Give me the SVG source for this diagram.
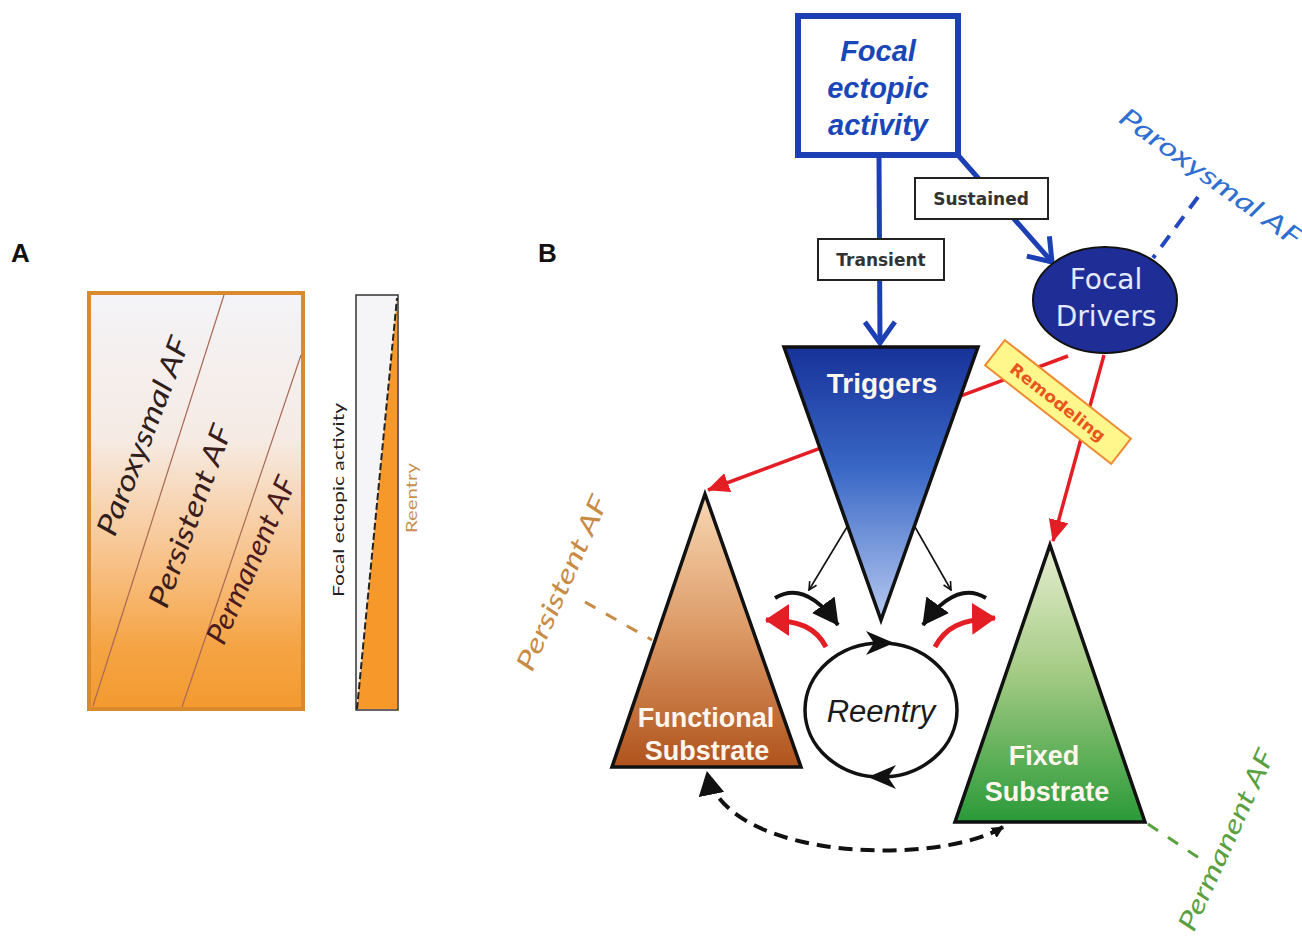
<svg xmlns="http://www.w3.org/2000/svg" width="1302" height="936" viewBox="0 0 1302 936">
<style>
.lbl{font-family:"Liberation Sans",Arial,sans-serif;font-weight:bold;font-size:26px;fill:#111}
.cal{font-family:Lato,"Liberation Sans",sans-serif;font-style:italic}
.tag{font-family:"DejaVu Sans",Verdana,sans-serif;font-weight:bold;font-size:17px;fill:#333}
.wbold{font-family:"Liberation Sans",Arial,sans-serif;font-weight:bold;fill:#fff6ee}
.box{fill:#fff;stroke:#222;stroke-width:2}
.blue{stroke:#1d3fb4;stroke-width:5;fill:none}
.red{stroke:#e31e24;stroke-width:3.5;fill:none}
.tri{stroke:#111;stroke-width:3.5;stroke-linejoin:miter}
</style>
<defs>
<linearGradient id="gA" x1="0" y1="0" x2="0" y2="1">
<stop offset="0" stop-color="#f3f3f7"/>
<stop offset="0.35" stop-color="#f6ebe4"/>
<stop offset="0.62" stop-color="#f8c590"/>
<stop offset="0.85" stop-color="#f5a444"/>
<stop offset="1" stop-color="#f39a30"/>
</linearGradient>
<linearGradient id="gTrig" x1="0" y1="0" x2="0" y2="1">
<stop offset="0" stop-color="#17329a"/>
<stop offset="0.45" stop-color="#3a68c6"/>
<stop offset="1" stop-color="#b6c9f0"/>
</linearGradient>
<linearGradient id="gFunc" x1="0" y1="0" x2="0" y2="1">
<stop offset="0" stop-color="#f8d8b4"/>
<stop offset="0.5" stop-color="#dc9a66"/>
<stop offset="1" stop-color="#b0531c"/>
</linearGradient>
<linearGradient id="gFix" x1="0" y1="0" x2="0" y2="1">
<stop offset="0" stop-color="#e6eed0"/>
<stop offset="0.45" stop-color="#a6cc86"/>
<stop offset="1" stop-color="#2a9a38"/>
</linearGradient>
<marker id="vBlue" viewBox="0 0 26 34" refX="23" refY="17" markerWidth="26" markerHeight="34" markerUnits="userSpaceOnUse" orient="auto">
<path d="M2,2 L23,17 L2,32" fill="none" stroke="#1d3fb4" stroke-width="5"/>
</marker>
<marker id="triRed" viewBox="0 0 22 20" refX="21" refY="10" markerWidth="22" markerHeight="20" markerUnits="userSpaceOnUse" orient="auto">
<path d="M0,0 L22,10 L0,20 z" fill="#e31e24"/>
</marker>
<marker id="triRedBig" viewBox="0 0 24 32" refX="23" refY="16" markerWidth="24" markerHeight="32" markerUnits="userSpaceOnUse" orient="auto">
<path d="M0,0 L24,16 L0,32 z" fill="#e31e24"/>
</marker>
<marker id="triBlkBig" viewBox="0 0 26 28" refX="25" refY="14" markerWidth="26" markerHeight="28" markerUnits="userSpaceOnUse" orient="auto">
<path d="M0,0 L26,14 L0,28 z" fill="#111"/>
</marker>
<marker id="vBlk" viewBox="0 0 10 10" refX="9" refY="5" markerWidth="10" markerHeight="10" markerUnits="userSpaceOnUse" orient="auto">
<path d="M1,1 L9,5 L1,9" fill="none" stroke="#111" stroke-width="1.6"/>
</marker>
<marker id="triBlk" viewBox="0 0 24 26" refX="23" refY="13" markerWidth="24" markerHeight="26" markerUnits="userSpaceOnUse" orient="auto-start-reverse">
<path d="M0,0 L24,13 L0,26 z" fill="#111"/>
</marker>
<marker id="triBlkSm" viewBox="0 0 12 12" refX="11" refY="6" markerWidth="12" markerHeight="12" markerUnits="userSpaceOnUse" orient="auto-start-reverse">
<path d="M0,0 L12,6 L0,12 z" fill="#111"/>
</marker>
</defs>
<rect width="1302" height="936" fill="#fff"/>

<!-- Panel A -->
<g id="panelA">
<text class="lbl" x="11" y="262">A</text>
<rect x="89" y="293" width="214" height="416" fill="url(#gA)" stroke="#d98a2c" stroke-width="4"/>
<line x1="224" y1="295" x2="93" y2="706" stroke="#a86a55" stroke-width="1.2"/>
<line x1="301" y1="355" x2="182" y2="707" stroke="#a86a55" stroke-width="1.2"/>
<text class="cal" font-size="29" fill="#2e1e1e" text-anchor="middle" dy="0.35em" transform="translate(143,436) rotate(-69)" textLength="210" lengthAdjust="spacingAndGlyphs">Paroxysmal AF</text>
<text class="cal" font-size="29" fill="#3a1e1e" text-anchor="middle" dy="0.35em" transform="translate(190,516) rotate(-70)" textLength="192" lengthAdjust="spacingAndGlyphs">Persistent AF</text>
<text class="cal" font-size="29" fill="#4a1a20" text-anchor="middle" dy="0.35em" transform="translate(251,560) rotate(-66)" textLength="180" lengthAdjust="spacingAndGlyphs">Permanent AF</text>
<rect x="356" y="295" width="42" height="415" fill="#f5f5f8" stroke="#333" stroke-width="1.5"/>
<polygon points="357,709 397,298 397,709" fill="#f6982a"/>
<line x1="357" y1="709" x2="397" y2="298" stroke="#222" stroke-width="2" stroke-dasharray="7 3"/>
<text font-family="Lato,'Liberation Sans',sans-serif" font-size="16" fill="#222" text-anchor="middle" dy="0.35em" transform="translate(338,500) rotate(-90)" textLength="194" lengthAdjust="spacingAndGlyphs">Focal ectopic activity</text>
<text font-family="Lato,'Liberation Sans',sans-serif" font-size="15" fill="#c8904e" text-anchor="middle" dy="0.35em" transform="translate(412,498) rotate(-90)" textLength="70" lengthAdjust="spacingAndGlyphs">Reentry</text>
</g>

<text class="lbl" x="538" y="262">B</text>

<!-- Connectors -->
<g id="connectors">
<line class="blue" x1="879" y1="156" x2="880" y2="343" marker-end="url(#vBlue)"/>
<line class="blue" x1="957" y1="154" x2="1052" y2="262" marker-end="url(#vBlue)"/>
<line x1="1198" y1="197" x2="1153" y2="258" stroke="#2448c0" stroke-width="4" stroke-dasharray="14 10"/>
<line class="red" x1="1068" y1="356" x2="708" y2="490" marker-end="url(#triRed)"/>
<line class="red" x1="1104" y1="355" x2="1053" y2="541" marker-end="url(#triRed)"/>
<line x1="585" y1="602" x2="652" y2="640" stroke="#c88b45" stroke-width="3" stroke-dasharray="12 12"/>
<line x1="1148" y1="824" x2="1202" y2="860" stroke="#5aa040" stroke-width="3" stroke-dasharray="12 12"/>
</g>

<!-- Triggers -->
<g id="triggers">
<polygon class="tri" points="784,347 978,347 881,620" fill="url(#gTrig)"/>
<text class="wbold" x="882" y="393" font-size="28" text-anchor="middle" fill="#f2f6ff">Triggers</text>
</g>

<g id="focalBox">
<rect x="798" y="16" width="160" height="139" fill="#fff" stroke="#1d3fb4" stroke-width="6"/>
<g font-family="'Liberation Sans',Arial,sans-serif" font-weight="bold" font-style="italic" font-size="29" fill="#1a47b8" text-anchor="middle">
<text x="878" y="61">Focal</text>
<text x="878" y="98">ectopic</text>
<text x="878" y="135">activity</text>
</g>
</g>

<g id="transient">
<rect class="box" x="818" y="239" width="126" height="41"/>
<text class="tag" x="881" y="266" text-anchor="middle">Transient</text>
</g>
<g id="sustained">
<rect class="box" x="915" y="178" width="133" height="41"/>
<text class="tag" x="981" y="205" text-anchor="middle">Sustained</text>
</g>

<g id="focalDrivers">
<ellipse cx="1105" cy="300" rx="72" ry="53" fill="#1f2e96" stroke="#111" stroke-width="2"/>
<g font-family="'DejaVu Sans',Verdana,sans-serif" font-size="28" fill="#e4eaff" text-anchor="middle">
<text x="1106" y="289">Focal</text>
<text x="1106" y="326">Drivers</text>
</g>
</g>

<text id="paroxB" class="cal" font-size="26" fill="#2e6fd0" text-anchor="middle" dy="0.35em" transform="translate(1211,177) rotate(35.5)" textLength="218" lengthAdjust="spacingAndGlyphs">Paroxysmal AF</text>

<g id="remodeling" transform="translate(1058,402) rotate(38)">
<rect x="-80" y="-16" width="160" height="32" fill="#fff68c" stroke="#ee8a32" stroke-width="2"/>
<text x="0" y="6" text-anchor="middle" font-family="'DejaVu Sans',Verdana,sans-serif" font-weight="bold" font-size="16" fill="#e8561c" textLength="116" lengthAdjust="spacingAndGlyphs">Remodeling</text>
</g>

<g id="functional">
<polygon class="tri" points="705,494 801,767 612,767" fill="url(#gFunc)"/>
<text class="wbold" x="706" y="727" font-size="27" text-anchor="middle">Functional</text>
<text class="wbold" x="707" y="760" font-size="27" text-anchor="middle">Substrate</text>
</g>
<text id="persistB" class="cal" font-size="26" fill="#c88b45" text-anchor="middle" dy="0.35em" transform="translate(562,583) rotate(-66)" textLength="189" lengthAdjust="spacingAndGlyphs">Persistent AF</text>

<g id="fixed">
<polygon class="tri" points="1050,545 1145,822 955,822" fill="url(#gFix)"/>
<text class="wbold" x="1044" y="765" font-size="27" text-anchor="middle" fill="#eef6e4">Fixed</text>
<text class="wbold" x="1047" y="801" font-size="27" text-anchor="middle" fill="#eef6e4">Substrate</text>
</g>
<text id="permB" class="cal" font-size="26" fill="#5aa040" text-anchor="middle" dy="0.35em" transform="translate(1226,840) rotate(-65.5)" textLength="196" lengthAdjust="spacingAndGlyphs">Permanent AF</text>

<g id="reentry">
<ellipse cx="881" cy="710" rx="76" ry="67" fill="#fff" stroke="#111" stroke-width="3.5"/>
<path d="M894,643 L866,631 L874,643 L866,655 Z" fill="#111"/>
<path d="M868,777 L896,765 L888,777 L896,789 Z" fill="#111"/>
<text x="881" y="722" text-anchor="middle" font-family="'Liberation Sans',Arial,sans-serif" font-style="italic" font-size="31" fill="#1a1a1a">Reentry</text>
</g>

<g id="interactions">
<line x1="847" y1="527" x2="809" y2="590" stroke="#111" stroke-width="1.6" marker-end="url(#vBlk)"/>
<line x1="915" y1="527" x2="951" y2="590" stroke="#111" stroke-width="1.6" marker-end="url(#vBlk)"/>
<path d="M775,598 C793,587 814,592 838,625" fill="none" stroke="#111" stroke-width="4" marker-end="url(#triBlkBig)"/>
<path d="M986,598 C968,587 947,592 923,625" fill="none" stroke="#111" stroke-width="4" marker-end="url(#triBlkBig)"/>
<path d="M826,647 C816,628 800,620 766,620" fill="none" stroke="#e31e24" stroke-width="5" marker-end="url(#triRedBig)"/>
<path d="M935,647 C945,628 961,619 995,618" fill="none" stroke="#e31e24" stroke-width="5" marker-end="url(#triRedBig)"/>
<path d="M1003,827 C940,866 725,862 707,772" fill="none" stroke="#111" stroke-width="4" stroke-dasharray="14 8" marker-end="url(#triBlk)" marker-start="url(#triBlkSm)"/>
</g>
</svg>
